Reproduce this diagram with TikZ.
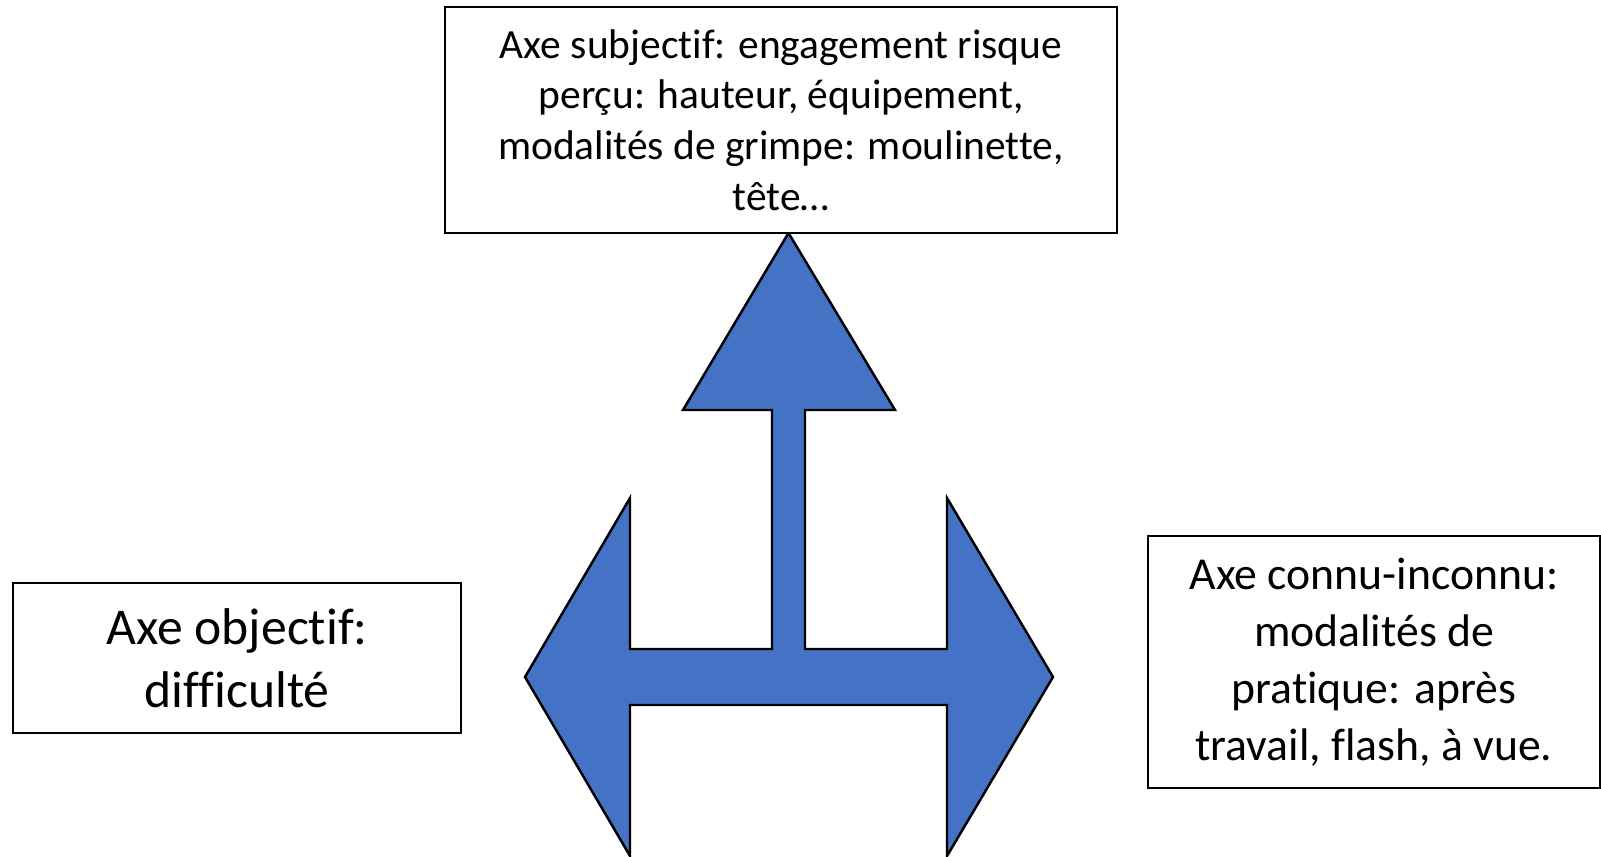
\documentclass[tikz,border=0pt]{standalone}
\usepackage{fontspec}
\setmainfont{Carlito}[Ligatures=NoCommon]
\usepackage{tikz}
\definecolor{officeblue}{HTML}{4472C4}

\begin{document}
\begin{tikzpicture}[
  axebox/.style={draw,line width=0.6pt,fill=white,align=center,inner sep=0pt}
  ]
  \useasboundingbox (0,0) rectangle (16.01,8.57);
  \draw[line width=0.7pt,fill=officeblue] (7.885,6.24) -- (8.95,4.47) -- (8.05,4.47)
  -- (8.05,2.08) -- (9.47,2.08) -- (9.47,3.59) -- (10.53,1.80) -- (9.47,0.01)
  -- (9.47,1.52) -- (6.30,1.52) -- (6.30,0.01) -- (5.25,1.80) -- (6.30,3.59)
  -- (6.30,2.08) -- (7.72,2.08) -- (7.72,4.47) -- (6.83,4.47) -- cycle;
  \node[axebox,minimum width=6.72cm,minimum height=2.26cm,
  font=\fontsize{11.8}{14.4}\selectfont] (subj) at (7.81,7.37)
  {Axe subjectif: engagement risque\\perçu: hauteur, équipement,\\modalités de grimpe: moulinette,\\tête…};
  \node[axebox,minimum width=4.48cm,minimum height=1.50cm,
  font=\fontsize{14.7}{17.9}\selectfont] (obj) at (2.37,1.99)
  {Axe objectif:\\difficulté};
  \node[axebox,minimum width=4.52cm,minimum height=2.52cm,
  font=\fontsize{13}{16.2}\selectfont] (connu) at (13.74,1.95)
  {Axe connu-inconnu:\\modalités de\\pratique: après\\travail, flash, à vue.};
\end{tikzpicture}
\end{document}
